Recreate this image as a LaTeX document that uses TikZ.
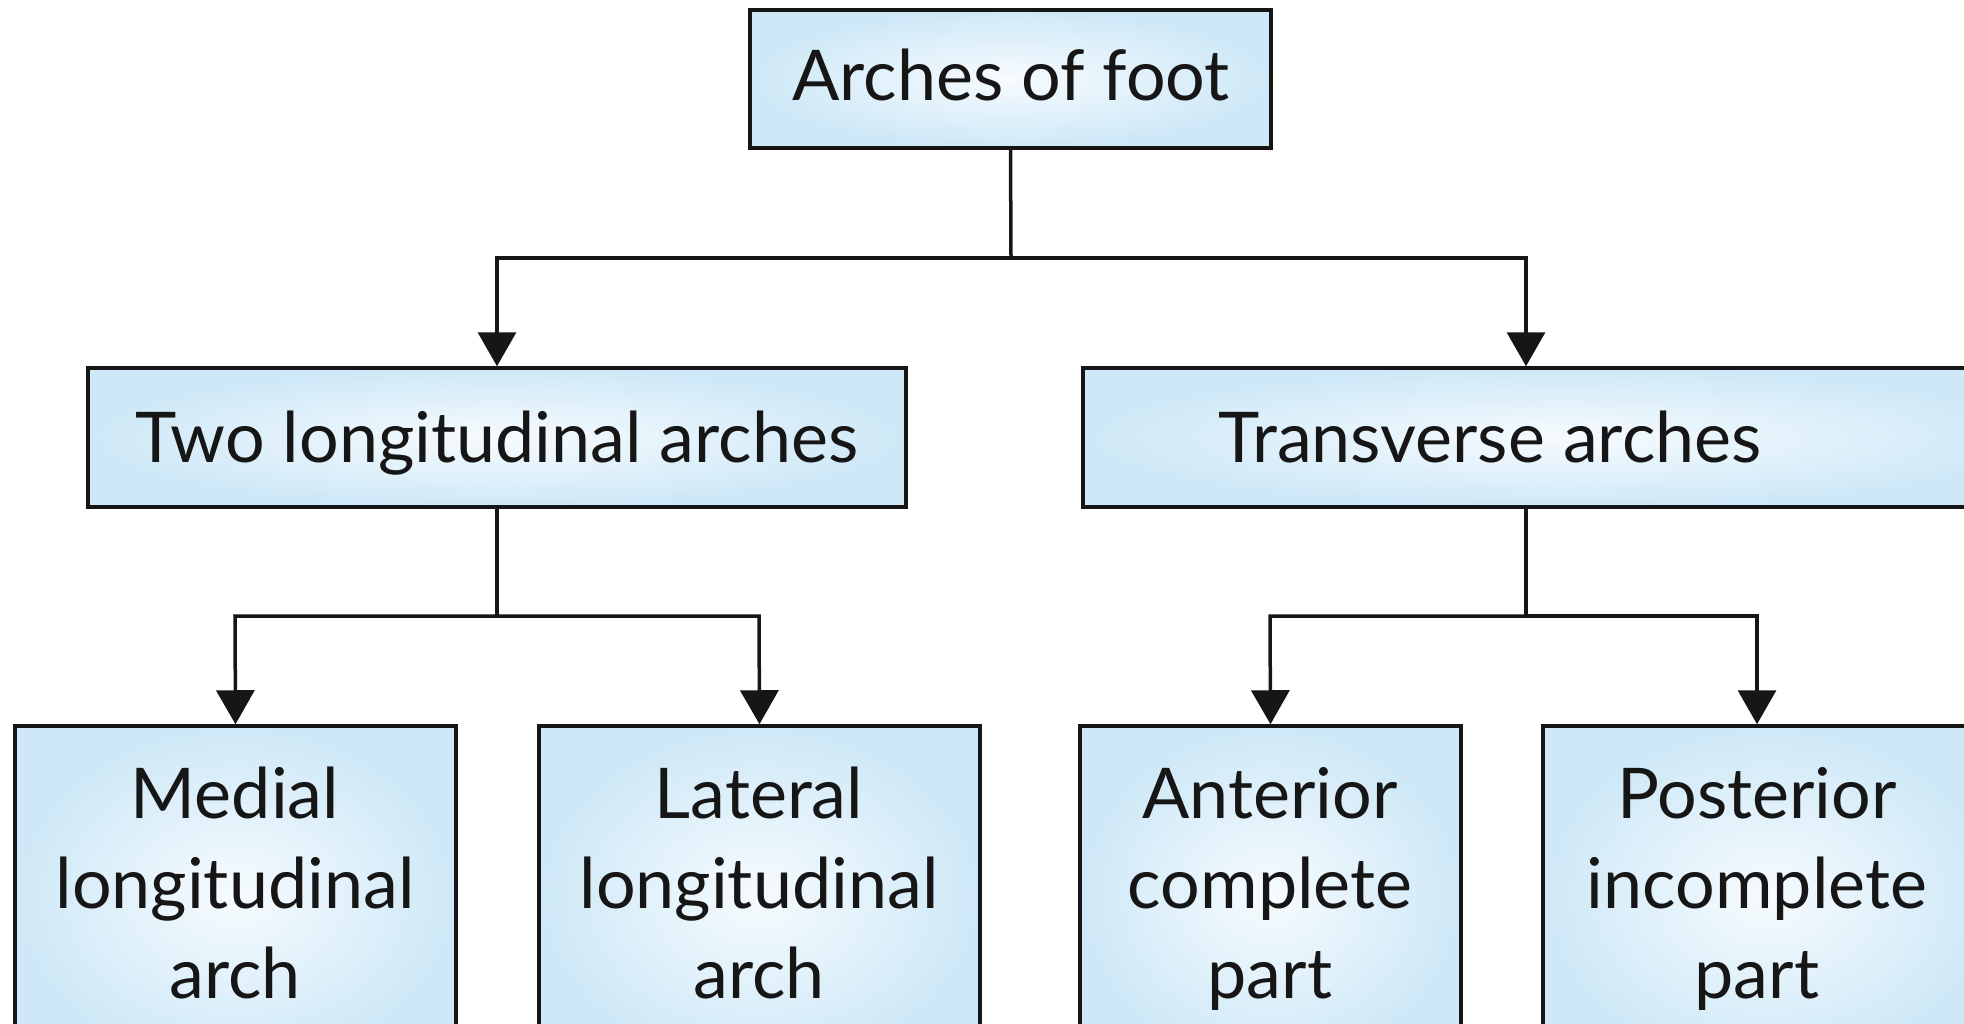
\documentclass[tikz,border=0pt]{standalone}
\usepackage{fontspec}
\setmainfont{Lato}
\usetikzlibrary{arrows.meta}
\definecolor{boxout}{RGB}{206,232,247}
\definecolor{boxin}{RGB}{246,251,254}
\definecolor{ink}{RGB}{22,22,22}
\begin{document}
\begin{tikzpicture}[x=1pt,y=-1pt,
  box/.style={draw=ink,line width=3.5pt,inner sep=0pt,rectangle,
    inner color=boxin,outer color=boxout},
  txt/.style={font=\fontsize{70}{90}\selectfont,align=center,inner sep=0pt,text=ink},
  conn/.style={line width=3.5pt,draw=ink},
  arr/.style={conn,-{Triangle[width=38pt,length=34pt]}}]
\useasboundingbox (0,0) rectangle (1964,1024);
\clip (0,0) rectangle (1964,1024);
% boxes
\node[box,minimum width=521pt,minimum height=138pt] (root) at (1010.5,79) {};
\node[txt,anchor=base] (roott) at (1011,101) {Arches of foot};
\node[box,minimum width=818pt,minimum height=139pt] (L) at (497,437.5) {};
\node[txt,anchor=base] (Lt) at (497,462) {Two longitudinal arches};
\node[box,minimum width=960pt,minimum height=139pt] (R) at (1563,437.5) {};
\node[txt,anchor=base] (Rt) at (1490,462) {Transverse arches};
\node[box,minimum width=441pt,minimum height=340pt] (LL) at (235.5,896) {};
\node[txt] (LLt) at (235,890) {\strut Medial\\longitudinal\\arch\strut};
\node[box,minimum width=441pt,minimum height=340pt] (LR) at (759.5,896) {};
\node[txt] (LRt) at (759,890) {\strut Lateral\\longitudinal\\arch\strut};
\node[box,minimum width=381pt,minimum height=340pt] (RL) at (1270.5,896) {};
\node[txt] (RLt) at (1270,890) {\strut Anterior\\complete\\part\strut};
\node[box,minimum width=450pt,minimum height=340pt] (RR) at (1768,896) {};
\node[txt] (RRt) at (1757,890) {\strut Posterior\\incomplete\\part\strut};
% connectors
\coordinate (j0) at (1011,258);
\coordinate (j0l) at (497,258);
\coordinate (j0r) at (1526,258);
\draw[conn] (root.south) -- (j0);
\draw[arr] (j0) -- (j0l) -- (L.north -| j0l);
\draw[arr] (j0) -- (j0r) -- (R.north -| j0r);
\coordinate (j1) at (497,616);
\coordinate (j1l) at (235,616);
\coordinate (j1r) at (759,616);
\draw[conn] (L.south) -- (j1);
\draw[arr] (j1) -- (j1l) -- (LL.north);
\draw[arr] (j1) -- (j1r) -- (LR.north);
\coordinate (j2) at (1526,616);
\coordinate (j2l) at (1270,616);
\coordinate (j2r) at (1757,616);
\draw[conn] (R.south -| j2) -- (j2);
\draw[arr] (j2) -- (j2l) -- (RL.north);
\draw[arr] (j2) -- (j2r) -- (RR.north -| j2r);
\end{tikzpicture}
\end{document}
